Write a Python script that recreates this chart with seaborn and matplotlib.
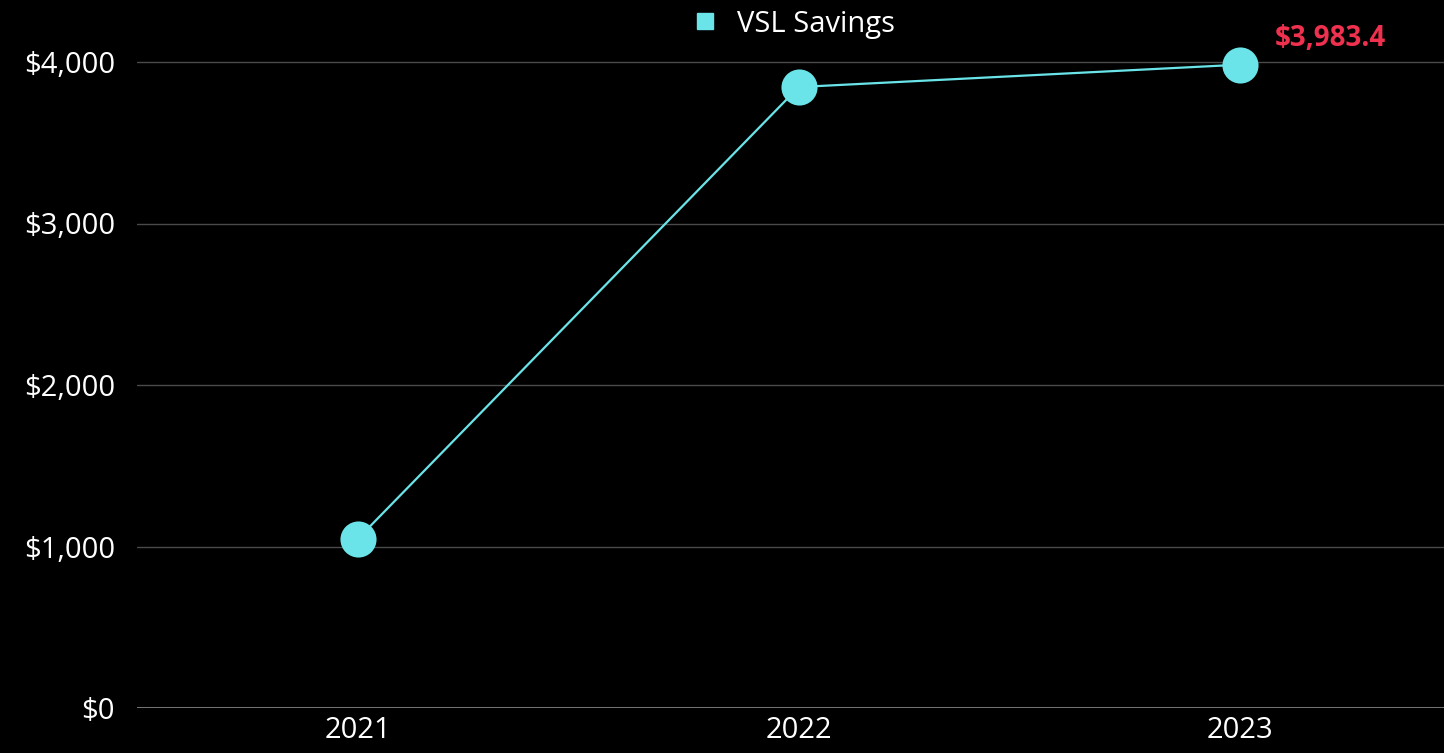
import matplotlib
matplotlib.use("Agg")
import matplotlib.pyplot as plt
import seaborn as sns
import pandas as pd
from matplotlib.lines import Line2D

years = ["2021", "2022", "2023"]
savings = [1046.0, 3845.0, 3983.4]
series_name = "VSL Savings"
ytick_vals = [0, 1000, 2000, 3000, 4000]
ytick_labels = ["$0", "$1,000", "$2,000", "$3,000", "$4,000"]
last_label = "$3,983.4"

sns.set_theme(style="dark")
plt.rcParams['font.family'] = ['Open Sans', 'DejaVu Sans']

cyan = "#6ae4e8"
red = "#f0304f"

df = pd.DataFrame({"year": years, "value": savings})

fig = plt.figure(figsize=(14.44, 7.53), dpi=100, facecolor="black")
ax = fig.add_axes([137/1444, 45/753, 1323.5/1444, (708-45)/753])
ax.set_facecolor("black")

sns.lineplot(data=df, x="year", y="value", ax=ax, color=cyan, linewidth=1.6,
             marker="o", markersize=26, markeredgewidth=0, sort=False, legend=False)

ax.set_xlim(-0.5, 2.5)
ymax = 4000 * (708 - 45) / 646
ax.set_ylim(0, ymax)
ax.set_yticks(ytick_vals)
ax.set_yticklabels(ytick_labels)
ax.set_xlabel("")
ax.set_ylabel("")
for s in ax.spines.values():
    s.set_visible(False)
ax.grid(False)
for v in ytick_vals[1:]:
    ax.axhline(v, color="#4a4a4a", linewidth=1, zorder=0)
ax.axhline(0, color="#8a8a8a", linewidth=1.2, zorder=0)

ax.tick_params(axis="y", colors="white", labelsize=21, length=0, pad=16)
ax.tick_params(axis="x", colors="white", labelsize=21, length=0, pad=6)

ax.annotate(last_label, xy=(2, savings[-1]), xytext=(25, 19), textcoords="offset points",
            color=red, fontsize=20, fontweight="bold", ha="left", va="center")

handle = Line2D([], [], marker="s", linestyle="none", color=cyan, markersize=11)
leg = fig.legend([handle], [series_name], loc="upper center", bbox_to_anchor=(0.544, 1.022),
                 frameon=False, fontsize=21, handletextpad=0.1, labelcolor="white")

fig.savefig("out.png", dpi=100, facecolor="black")
